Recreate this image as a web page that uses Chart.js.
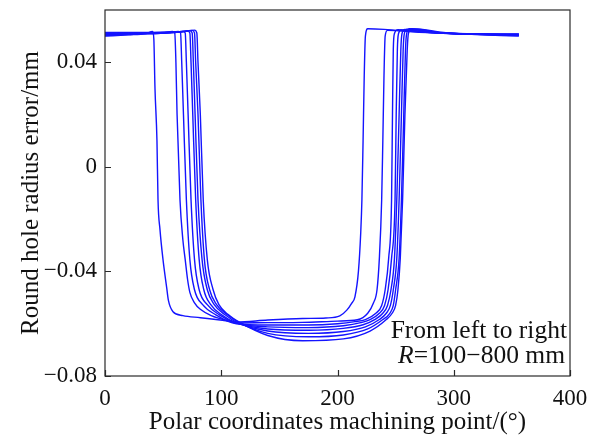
<!DOCTYPE html>
<html>
<head>
<meta charset="utf-8">
<script src="https://cdn.jsdelivr.net/npm/chart.js@4.4.1/dist/chart.umd.min.js"></script>
<style>
  html, body { margin: 0; padding: 0; background: #fff; }
  #wrap { width: 590px; height: 437px; }
</style>
</head>
<body>
<div id="wrap"><canvas id="chart" width="590" height="437"></canvas></div>
<script>
// tick values
var xTicks = [0, 100, 200, 300, 400];
var yTicks = [-0.08, -0.04, 0, 0.04];

// R = 100 ... 800 mm, [angle, error]
var r100 = [[0,0.0500],[20,0.0505],[35,0.0510],[41,0.0518],[42,0.0490],[43,0.030],[44.7,0.010],[45.6,-0.0126],[47.3,-0.024],[49.9,-0.0355],[53,-0.046],[54.5,-0.051],[58.5,-0.0554],[67,-0.0569],[82,-0.0577],[99,-0.0586],[113,-0.0594],[140,-0.0586],[170,-0.0580],[190,-0.0578],[202,-0.0570],[208,-0.0548],[212,-0.0523],[215,-0.0497],[218,-0.040],[220,-0.025],[221,-0.0126],[222,0.010],[223,0.035],[224,0.050],[226,0.0528],[240,0.0526],[270,0.0516],[310,0.0508],[356,0.0500]];
var r200 = [[0,0.0502],[30,0.0508],[50,0.0512],[58,0.0518],[60,0.0512],[61,0.040],[62,0.020],[64.5,-0.0126],[67,-0.028],[69,-0.0355],[71,-0.043],[73,-0.048],[77,-0.052],[82,-0.0545],[92,-0.0570],[105,-0.0588],[113,-0.0597],[140,-0.0596],[170,-0.0595],[200,-0.0590],[217,-0.0585],[226,-0.0560],[231,-0.0520],[234,-0.047],[236,-0.035],[238,-0.0126],[239,0.010],[240,0.035],[241,0.050],[243,0.0522],[270,0.0515],[320,0.0507],[356,0.0502]];
var r300 = [[0,0.0504],[30,0.0509],[55,0.0513],[63,0.0518],[65,0.0512],[66,0.040],[67.5,0.020],[70,-0.0126],[73,-0.0355],[77,-0.047],[84,-0.0527],[95,-0.0565],[113,-0.0600],[140,-0.0605],[175,-0.0605],[200,-0.0600],[215,-0.0592],[224,-0.0584],[233,-0.0560],[238,-0.053],[241,-0.047],[244,-0.035],[246.5,-0.0126],[247.3,0.020],[248,0.045],[249,0.051],[252,0.0525],[280,0.0514],[356,0.0503]];
var r400 = [[0,0.0506],[30,0.0510],[60,0.0514],[67,0.0519],[69,0.0512],[70,0.040],[71.5,0.020],[74,-0.0126],[77,-0.0355],[81,-0.047],[88,-0.0527],[98,-0.0565],[113,-0.0598],[140,-0.0612],[175,-0.0615],[205,-0.0608],[220,-0.0596],[228,-0.0584],[236,-0.056],[240.5,-0.053],[243.5,-0.047],[246.5,-0.035],[249.5,-0.0126],[250.5,0.020],[251.5,0.045],[252.5,0.051],[255,0.0524],[285,0.0513],[356,0.0504]];
var r500 = [[0,0.0508],[30,0.0511],[62,0.0515],[71,0.0520],[73,0.0512],[74,0.040],[75.5,0.020],[78,-0.0126],[81,-0.0355],[85,-0.047],[91,-0.0527],[100,-0.0565],[113,-0.0597],[140,-0.0620],[175,-0.0625],[205,-0.0618],[222,-0.0604],[232,-0.0584],[239,-0.056],[243,-0.053],[246,-0.047],[249,-0.035],[251,-0.0126],[253,0.020],[254.5,0.045],[255.5,0.051],[258,0.0526],[290,0.0512],[356,0.0505]];
var r600 = [[0,0.0510],[30,0.0512],[64,0.0516],[73,0.0521],[75,0.0512],[76,0.040],[77.5,0.020],[80,-0.0126],[83.5,-0.0355],[88,-0.047],[94,-0.0527],[103,-0.0565],[114,-0.0596],[140,-0.0628],[175,-0.0637],[205,-0.0630],[224,-0.0612],[236,-0.0584],[242,-0.056],[245.5,-0.053],[248,-0.047],[251,-0.035],[253,-0.0126],[255,0.020],[256.5,0.045],[257.5,0.051],[260,0.0527],[292,0.0512],[356,0.0506]];
var r700 = [[0,0.0512],[30,0.0513],[66,0.0517],[75,0.0522],[77,0.0512],[78,0.040],[80,0.020],[82.5,-0.0126],[85.5,-0.0355],[90,-0.047],[96,-0.0527],[105,-0.0565],[115,-0.0595],[140,-0.0637],[175,-0.0650],[205,-0.0643],[226,-0.0620],[239,-0.0584],[245,-0.056],[248,-0.053],[250,-0.047],[253,-0.035],[255,-0.0126],[257,0.020],[258.5,0.045],[259.5,0.051],[262,0.0528],[295,0.0511],[356,0.0507]];
var r800 = [[0,0.0514],[30,0.0514],[68,0.0518],[77,0.0523],[79,0.0512],[80,0.040],[82,0.020],[84.5,-0.0126],[88,-0.0355],[93,-0.047],[98,-0.0527],[106,-0.0565],[116,-0.0595],[140,-0.0645],[170,-0.0665],[205,-0.0658],[228,-0.0628],[242,-0.0584],[247,-0.056],[250,-0.053],[252,-0.047],[254,-0.035],[256,-0.0126],[258,0.020],[260,0.045],[261,0.051],[264,0.0528],[298,0.0511],[356,0.0508]];

var seriesList = [r100, r200, r300, r400, r500, r600, r700, r800];
var seriesNames = ["R=100 mm", "R=200 mm", "R=300 mm", "R=400 mm", "R=500 mm", "R=600 mm", "R=700 mm", "R=800 mm"];

var serif = "'Liberation Serif', 'Times New Roman', serif";
var lineBlue = "#1414ff";

function fmtY(v) {
    if (Math.abs(v) < 1e-9) return "0";
    var s = Math.abs(v).toFixed(2);
    return (v < 0 ? "\u2212" : "") + s;
}

var datasets = seriesList.map(function (pts, i) {
    return {
        label: seriesNames[i],
        data: pts.map(function (p) { return { x: p[0], y: p[1] }; }),
        showLine: true,
        borderColor: lineBlue,
        borderWidth: 1.4,
        pointRadius: 0,
        fill: false,
        cubicInterpolationMode: "monotone"
    };
});

// box round the plot, inner tick marks, note in the corner
var framePlugin = {
    id: "frame",
    afterDatasetsDraw: function (chart) {
        var ctx = chart.ctx;
        var a = chart.chartArea;
        var xs = chart.scales.x, ys = chart.scales.y;
        ctx.save();
        ctx.strokeStyle = "#2a2a2a";
        ctx.lineWidth = 1.2;
        ctx.strokeRect(a.left, a.top, a.right - a.left, a.bottom - a.top);
        ctx.beginPath();
        yTicks.forEach(function (v) {
            var py = Math.round(ys.getPixelForValue(v)) + 0.5;
            ctx.moveTo(a.left, py);
            ctx.lineTo(a.left + 6, py);
        });
        xTicks.forEach(function (v) {
            var px = Math.round(xs.getPixelForValue(v)) + 0.5;
            ctx.moveTo(px, a.bottom);
            ctx.lineTo(px, a.bottom - 6);
        });
        ctx.stroke();

        ctx.fillStyle = "#111";
        ctx.textAlign = "right";
        ctx.textBaseline = "alphabetic";
        ctx.font = "25.5px " + serif;
        ctx.fillText("From left to right", a.right - 3, a.bottom - 38);
        var line2 = "=100\u2212800 mm";
        var w2 = ctx.measureText(line2).width;
        ctx.fillText(line2, a.right - 5, a.bottom - 13);
        ctx.font = "italic 25.5px " + serif;
        ctx.fillText("R", a.right - 5 - w2, a.bottom - 13);
        ctx.restore();
    }
};

new Chart(document.getElementById("chart"), {
    type: "scatter",
    data: { datasets: datasets },
    options: {
        responsive: false,
        animation: false,
        layout: { padding: { top: 10, right: 20, left: 0, bottom: 0 } },
        plugins: {
            legend: { display: false },
            tooltip: { enabled: false }
        },
        scales: {
            x: {
                type: "linear",
                min: 0,
                max: 400,
                afterBuildTicks: function (scale) {
                    scale.ticks = xTicks.map(function (v) { return { value: v }; });
                },
                afterFit: function (scale) {
                    scale.height = 61;
                    scale.paddingLeft = 0;
                    scale.paddingRight = 0;
                },
                grid: { display: false, drawTicks: false },
                border: { display: false },
                ticks: {
                    color: "#111",
                    padding: 9,
                    maxRotation: 0,
                    font: { family: serif, size: 23 }
                },
                title: {
                    display: true,
                    text: "Polar coordinates machining point/(\u00b0)",
                    color: "#111",
                    padding: { top: 0, bottom: 0 },
                    font: { family: serif, size: 25 }
                }
            },
            y: {
                type: "linear",
                min: -0.08,
                max: 0.06,
                afterBuildTicks: function (scale) {
                    scale.ticks = yTicks.map(function (v) { return { value: v }; });
                },
                afterFit: function (scale) {
                    scale.width = 105;
                    // top tick label sits well below the top edge
                    scale.paddingTop = 0;
                    scale.paddingBottom = 0;
                },
                grid: { display: false, drawTicks: false },
                border: { display: false },
                ticks: {
                    color: "#111",
                    padding: 8,
                    font: { family: serif, size: 23 },
                    callback: function (v) { return fmtY(v); }
                },
                title: {
                    display: true,
                    text: "Round hole radius error/mm",
                    color: "#111",
                    padding: { top: 16, bottom: 0 },
                    font: { family: serif, size: 25 }
                }
            }
        }
    },
    plugins: [framePlugin]
});
</script>
</body>
</html>
